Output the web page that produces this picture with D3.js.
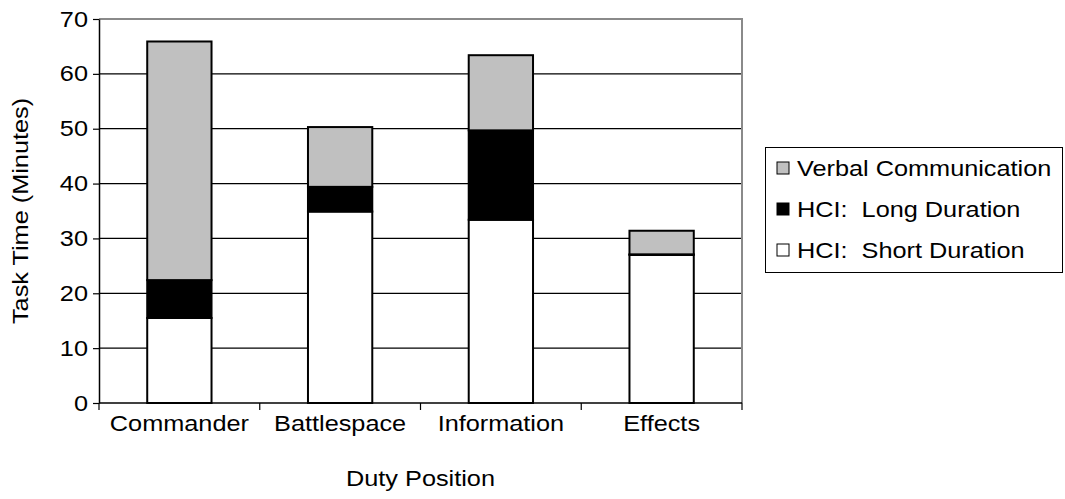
<!DOCTYPE html>
<html>
<head>
<meta charset="utf-8">
<script src="https://cdn.jsdelivr.net/npm/d3@7"></script>
<style>
  body { margin: 0; background: #fff; }
  text { font-family: Arial, "Liberation Sans", sans-serif; fill: #000; }
</style>
</head>
<body>
<div id="chart"></div>
<script>
const categories = ["Commander", "Battlespace", "Information", "Effects"];
const shortDuration = [15.5, 34.9, 33.4, 27.0];
const longDuration = [6.9, 4.5, 16.3, 0.1];
const verbalComm = [43.5, 10.9, 13.7, 4.3];
const yTicks = [0, 10, 20, 30, 40, 50, 60, 70];

const seriesNames = ["HCI:  Short Duration", "HCI:  Long Duration", "Verbal Communication"];
const seriesKeys = ["short", "long", "verbal"];
const colors = { short: "#ffffff", long: "#000000", verbal: "#c0c0c0" };

const width = 1065, height = 499;
const plot = { left: 99, right: 742, top: 19, bottom: 403 };
const fontSize = 22;
const stretch = 1.15;   // reference text is a bit wider than Arial

const rows = categories.map((c, i) => ({
  cat: c, short: shortDuration[i], long: longDuration[i], verbal: verbalComm[i]
}));

const svg = d3.select("#chart").append("svg")
  .attr("width", width)
  .attr("height", height);

const x = d3.scaleBand()
  .domain(categories)
  .range([plot.left, plot.right])
  .paddingInner(0).paddingOuter(0);

const y = d3.scaleLinear()
  .domain([0, 70])
  .range([plot.bottom, plot.top]);

// gridlines
svg.append("g")
  .selectAll("line")
  .data(yTicks.filter(d => d > 0 && d < 70))
  .join("line")
  .attr("x1", plot.left).attr("x2", plot.right)
  .attr("y1", d => y(d)).attr("y2", d => y(d))
  .attr("stroke", "#000").attr("stroke-width", 1.2);

// plot frame top/right (gray)
svg.append("path")
  .attr("d", `M${plot.left},${y(70)}H${plot.right}V${plot.bottom}`)
  .attr("fill", "none")
  .attr("stroke", "#8a8a8a")
  .attr("stroke-width", 2);

// stacked bars
const stack = d3.stack().keys(seriesKeys)(rows);
const barW = x.bandwidth() * 0.4;

svg.append("g")
  .selectAll("g")
  .data(stack)
  .join("g")
  .attr("fill", d => colors[d.key])
  .selectAll("rect")
  .data(d => d)
  .join("rect")
  .attr("x", d => x(d.data.cat) + (x.bandwidth() - barW) / 2)
  .attr("width", barW)
  .attr("y", d => y(d[1]))
  .attr("height", d => y(d[0]) - y(d[1]))
  .attr("stroke", "#000")
  .attr("stroke-width", 2);

// y axis
const yAxis = svg.append("g")
  .attr("transform", `translate(${plot.left},0)`)
  .call(d3.axisLeft(y).tickValues(yTicks).tickSize(6).tickPadding(6).tickSizeOuter(0));
yAxis.select(".domain").attr("stroke", "#000").attr("stroke-width", 1.5);
yAxis.selectAll(".tick line").attr("stroke", "#000").attr("stroke-width", 1.2);
yAxis.selectAll("text")
  .attr("x", 0)
  .attr("transform", `translate(-11,0) scale(${stretch},1)`)
  .style("font-size", fontSize + "px")
  .style("font-family", "Arial, 'Liberation Sans', sans-serif");

// x axis
const xAxis = svg.append("g")
  .attr("transform", `translate(0,${plot.bottom})`)
  .call(d3.axisBottom(x).tickSize(0).tickPadding(12).tickSizeOuter(0));
xAxis.select(".domain").attr("stroke", "#000").attr("stroke-width", 1.5)
  .attr("d", `M${plot.left},0H${plot.right}`);
xAxis.selectAll("text")
  .attr("transform", `scale(${stretch},1)`)
  .style("font-size", fontSize + "px")
  .style("font-family", "Arial, 'Liberation Sans', sans-serif");

// category boundary ticks
const bounds = categories.map(c => x(c)).concat([x.range()[1]]);
xAxis.append("g")
  .selectAll("line")
  .data(bounds)
  .join("line")
  .attr("x1", d => d).attr("x2", d => d)
  .attr("y1", 0).attr("y2", 7)
  .attr("stroke", "#000").attr("stroke-width", 1.2);

// axis titles
svg.append("text")
  .attr("transform", `translate(${(plot.left + plot.right) / 2},486) scale(${stretch},1)`)
  .attr("text-anchor", "middle")
  .style("font-size", fontSize + "px")
  .text("Duty Position");

svg.append("text")
  .attr("transform", `translate(28,${(plot.top + plot.bottom) / 2}) rotate(-90) scale(${stretch},1)`)
  .attr("text-anchor", "middle")
  .style("font-size", fontSize + "px")
  .text("Task Time (Minutes)");

// legend
const legend = svg.append("g");
legend.append("rect")
  .attr("x", 765.5).attr("y", 147.5)
  .attr("width", 297).attr("height", 125)
  .attr("fill", "#fff").attr("stroke", "#000").attr("stroke-width", 1);

const legendItems = seriesKeys.map((k, i) => ({ key: k, name: seriesNames[i] })).reverse();
const rowY = d3.scalePoint().domain(legendItems.map(d => d.key)).range([168, 250]);

const li = legend.selectAll("g.item")
  .data(legendItems)
  .join("g")
  .attr("class", "item")
  .attr("transform", d => `translate(0,${rowY(d.key)})`);

li.append("rect")
  .attr("x", 777).attr("y", -6)
  .attr("width", 12).attr("height", 12)
  .attr("fill", d => colors[d.key])
  .attr("stroke", "#000").attr("stroke-width", 1);

li.append("text")
  .attr("transform", `translate(797,0) scale(${stretch},1)`)
  .attr("dy", "0.35em")
  .style("font-size", fontSize + "px")
  .style("white-space", "pre")
  .text(d => d.name);
</script>
</body>
</html>
